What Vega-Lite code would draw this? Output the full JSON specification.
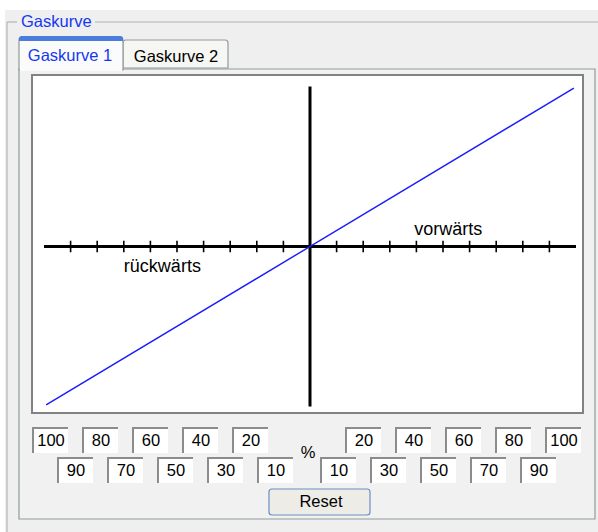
{
  "$schema": "https://vega.github.io/schema/vega-lite/v6.json",
  "width": 598,
  "height": 532,
  "padding": 0,
  "autosize": "none",
  "background": "#ffffff",
  "config": {
    "view": {"stroke": null},
    "text": {"font": "Liberation Sans", "fontSize": 16.5, "color": "#000000"}
  },
  "resolve": {"scale": {"x": "independent", "y": "independent"}},
  "layer": [
    {
      "layer": [
        {
          "encoding": {
            "x": {"field": "x1", "type": "quantitative", "scale": {"domain": [0, 598], "nice": false, "zero": false}, "axis": null},
            "x2": {"field": "x2"},
            "y": {"field": "y1", "type": "quantitative", "scale": {"domain": [0, 532], "reverse": true, "nice": false, "zero": false}, "axis": null},
            "y2": {"field": "y2"}
          },
          "layer": [
            {"data": {"values": [{"x1": 5, "x2": 598, "y1": 10, "y2": 532}]}, "mark": {"type": "rect", "fill": "#efefef"}},
            {"data": {"values": [
              {"x1": 7, "x2": 17, "y1": 22, "y2": 22},
              {"x1": 95, "x2": 598, "y1": 22, "y2": 22},
              {"x1": 7, "x2": 7, "y1": 22, "y2": 532}
            ]}, "mark": {"type": "rule", "stroke": "#b4b4b4", "strokeWidth": 1.2}},
            {"data": {"values": [{"x1": 19, "x2": 595, "y1": 69, "y2": 519}]}, "mark": {"type": "rect", "fill": "#f1f1f1", "stroke": "#919b9c", "strokeWidth": 1.2}},
            {"data": {"values": [{"x1": 123, "x2": 228, "y1": 40, "y2": 68}]}, "mark": {"type": "rect", "fill": "#f6f6f2", "stroke": "#919b9c", "strokeWidth": 1.2, "cornerRadiusTopLeft": 3, "cornerRadiusTopRight": 3}},
            {"data": {"values": [{"x1": 19, "x2": 123, "y1": 37, "y2": 70}]}, "mark": {"type": "rect", "fill": "#fbfbfb", "stroke": "#919b9c", "strokeWidth": 1.2, "cornerRadiusTopLeft": 3, "cornerRadiusTopRight": 3}},
            {"data": {"values": [{"x1": 20, "x2": 122, "y1": 66, "y2": 71}]}, "mark": {"type": "rect", "fill": "#fbfbfb"}},
            {"data": {"values": [{"x1": 19, "x2": 123, "y1": 36, "y2": 41}]}, "mark": {"type": "rect", "fill": "#4a7ddc", "cornerRadiusTopLeft": 3, "cornerRadiusTopRight": 3}},
            {"data": {"values": [{"x1": 32, "x2": 583, "y1": 75, "y2": 413}]}, "mark": {"type": "rect", "fill": "#ffffff", "stroke": "#828282", "strokeWidth": 2}},
            {"data": {"values": [{"x1": 269, "x2": 370, "y1": 489, "y2": 515}]}, "mark": {"type": "rect", "fill": "#edece6", "stroke": "#6b8fc2", "strokeWidth": 1.2, "cornerRadius": 3}}
          ]
        },
        {
          "encoding": {
            "x": {"field": "x", "type": "quantitative", "scale": {"domain": [0, 598], "nice": false, "zero": false}, "axis": null},
            "y": {"field": "y", "type": "quantitative", "scale": {"domain": [0, 532], "reverse": true, "nice": false, "zero": false}, "axis": null},
            "text": {"field": "t"}
          },
          "layer": [
            {"data": {"values": [{"t": "Gaskurve", "x": 21, "y": 22}]}, "mark": {"type": "text", "align": "left", "baseline": "middle", "color": "#1438f0"}},
            {"data": {"values": [{"t": "Gaskurve 1", "x": 70, "y": 56}]}, "mark": {"type": "text", "align": "center", "baseline": "middle", "color": "#1438f0"}},
            {"data": {"values": [
              {"t": "Gaskurve 2", "x": 176, "y": 57},
              {"t": "%", "x": 308, "y": 453},
              {"t": "Reset", "x": 321, "y": 502}
            ]}, "mark": {"type": "text", "align": "center", "baseline": "middle"}}
          ]
        }
      ]
    },
    {
      "data": {"values": [
        {"pct": -100, "value": 100, "row": 1},
        {"pct": -80, "value": 80, "row": 1},
        {"pct": -60, "value": 60, "row": 1},
        {"pct": -40, "value": 40, "row": 1},
        {"pct": -20, "value": 20, "row": 1},
        {"pct": -90, "value": 90, "row": 2},
        {"pct": -70, "value": 70, "row": 2},
        {"pct": -50, "value": 50, "row": 2},
        {"pct": -30, "value": 30, "row": 2},
        {"pct": -10, "value": 10, "row": 2},
        {"pct": 20, "value": 20, "row": 1},
        {"pct": 40, "value": 40, "row": 1},
        {"pct": 60, "value": 60, "row": 1},
        {"pct": 80, "value": 80, "row": 1},
        {"pct": 100, "value": 100, "row": 1},
        {"pct": 10, "value": 10, "row": 2},
        {"pct": 30, "value": 30, "row": 2},
        {"pct": 50, "value": 50, "row": 2},
        {"pct": 70, "value": 70, "row": 2},
        {"pct": 90, "value": 90, "row": 2}
      ]},
      "encoding": {
        "x": {"field": "pct", "type": "quantitative", "scale": {"domain": [-100, -10, 10, 100], "range": [50, 275, 338, 563], "nice": false, "zero": false}, "axis": null},
        "y": {"field": "row", "type": "quantitative", "scale": {"domain": [1, 2], "range": [440, 470], "nice": false, "zero": false}, "axis": null}
      },
      "layer": [
        {"mark": {"type": "rect", "width": 36, "height": 26, "fill": "#8c8c8c"}},
        {"mark": {"type": "rect", "width": 34, "height": 24, "fill": "#ffffff", "xOffset": 1, "yOffset": 1}},
        {"mark": {"type": "text", "dx": 1, "dy": 1, "align": "center", "baseline": "middle"}, "encoding": {"text": {"field": "value"}}}
      ]
    },
    {
      "layer": [
        {
          "data": {"values": [{"from": -100, "to": 100}]},
          "mark": {"type": "rule", "stroke": "#000000", "strokeWidth": 3},
          "encoding": {
            "x": {"field": "from", "type": "quantitative", "scale": {"domain": [-116.54, 108.27], "nice": false, "zero": false}, "axis": null},
            "x2": {"field": "to"},
            "y": {"datum": 0, "type": "quantitative", "scale": {"domain": [-178.44, 154.06], "nice": false, "zero": false}, "axis": null}
          }
        },
        {
          "data": {"values": [{"from": -100, "to": 100}]},
          "mark": {"type": "rule", "stroke": "#000000", "strokeWidth": 3},
          "encoding": {
            "x": {"datum": 0, "type": "quantitative", "scale": {"domain": [-116.54, 108.27], "nice": false, "zero": false}, "axis": null},
            "y": {"field": "from", "type": "quantitative", "scale": {"domain": [-178.44, 154.06], "nice": false, "zero": false}, "axis": null},
            "y2": {"field": "to"}
          }
        },
        {
          "data": {"values": [
            {"tick": -90}, {"tick": -80}, {"tick": -70}, {"tick": -60}, {"tick": -50},
            {"tick": -40}, {"tick": -30}, {"tick": -20}, {"tick": -10},
            {"tick": 10}, {"tick": 20}, {"tick": 30}, {"tick": 40}, {"tick": 50},
            {"tick": 60}, {"tick": 70}, {"tick": 80}, {"tick": 90}
          ]},
          "mark": {"type": "rule", "stroke": "#000000", "strokeWidth": 1.6},
          "encoding": {
            "x": {"field": "tick", "type": "quantitative", "scale": {"domain": [-116.54, 108.27], "nice": false, "zero": false}, "axis": null},
            "y": {"datum": -3.6, "type": "quantitative", "scale": {"domain": [-178.44, 154.06], "nice": false, "zero": false}, "axis": null},
            "y2": {"datum": 3.6}
          }
        },
        {
          "data": {"values": [
            {"label": "vorwärts", "pct": 52, "out": 10},
            {"label": "rückwärts", "pct": -55.5, "out": -12.6}
          ]},
          "mark": {"type": "text", "align": "center", "baseline": "middle", "fontSize": 18},
          "encoding": {
            "x": {"field": "pct", "type": "quantitative", "scale": {"domain": [-116.54, 108.27], "nice": false, "zero": false}, "axis": null},
            "y": {"field": "out", "type": "quantitative", "scale": {"domain": [-178.44, 154.06], "nice": false, "zero": false}, "axis": null},
            "text": {"field": "label"}
          }
        },
        {
          "data": {"values": [
            {"pct": -99.2, "out": -99},
            {"pct": 99.2, "out": 99}
          ]},
          "mark": {"type": "line", "stroke": "#1a1aff", "strokeWidth": 1.4},
          "encoding": {
            "x": {"field": "pct", "type": "quantitative", "scale": {"domain": [-116.54, 108.27], "nice": false, "zero": false}, "axis": null},
            "y": {"field": "out", "type": "quantitative", "scale": {"domain": [-178.44, 154.06], "nice": false, "zero": false}, "axis": null}
          }
        }
      ]
    }
  ]
}
